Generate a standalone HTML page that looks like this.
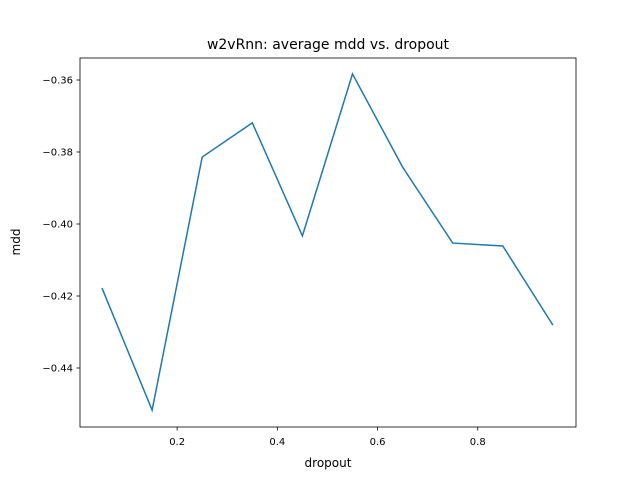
<!DOCTYPE html>
<html><head><meta charset="utf-8"><style>body{margin:0;background:#fff}svg{font-family:"DejaVu Sans","Liberation Sans",sans-serif}</style></head>
<body>
<svg id="chart" width="640" height="480">
<rect x="0" y="0" width="640" height="480" fill="#fff"/>
<text x="328" y="49" text-anchor="middle" font-size="14">w2vRnn: average mdd vs. dropout</text>
<text x="328" y="467" text-anchor="middle" font-size="12">dropout</text>
<text x="20" y="242" text-anchor="middle" font-size="12" transform="rotate(-90 20 242)">mdd</text>
<g id="ticks"></g>
<path id="line" fill="none" stroke="#1f77b4" stroke-width="1.5"/>
<rect x="80" y="58" width="496" height="369" fill="none" stroke="#000" stroke-width="0.8"/>
</svg>
<script>
const dropout = [0.05,0.15,0.25,0.35,0.45,0.55,0.65,0.75,0.85,0.95];
const mdd = [-0.4178,-0.4517,-0.3814,-0.3719,-0.4033,-0.3583,-0.3842,-0.4053,-0.4061,-0.4281];
const xTicks = [0.2,0.4,0.6,0.8];
const yTicks = [-0.36,-0.38,-0.40,-0.42,-0.44];
const xTickLabels = ["0.2","0.4","0.6","0.8"];
const yTickLabels = ["−0.36","−0.38","−0.40","−0.42","−0.44"];
function sx(v){return 102+(v-0.05)*501;}
function sy(v){return 80+(-0.36-v)*3600;}
const ns="http://www.w3.org/2000/svg";
const g=document.getElementById('ticks');
xTicks.forEach((t,i)=>{
  const l=document.createElementNS(ns,'line');
  l.setAttribute('x1',sx(t));l.setAttribute('x2',sx(t));l.setAttribute('y1',427);l.setAttribute('y2',430.5);l.setAttribute('stroke','#000');l.setAttribute('stroke-width','0.8');
  
  
  g.appendChild(l);
  const tx=document.createElementNS(ns,'text');
  tx.setAttribute('x',sx(t));tx.setAttribute('y',445);tx.setAttribute('text-anchor','middle');tx.setAttribute('font-size','10');
  tx.textContent=xTickLabels[i];
  
  
  g.appendChild(tx);
});
yTicks.forEach((t,i)=>{
  const l=document.createElementNS(ns,'line');
  l.setAttribute('x1',76.5);l.setAttribute('x2',80);l.setAttribute('y1',sy(t));l.setAttribute('y2',sy(t));l.setAttribute('stroke','#000');l.setAttribute('stroke-width','0.8');
  
  
  g.appendChild(l);
  const tx=document.createElementNS(ns,'text');
  tx.setAttribute('x',73);tx.setAttribute('y',sy(t)+3.5);tx.setAttribute('text-anchor','end');tx.setAttribute('font-size','10');
  tx.textContent=yTickLabels[i];
  
  
  g.appendChild(tx);
});
document.getElementById('line').setAttribute('d',dropout.map((d,i)=>(i?'L':'M')+sx(d)+','+sy(mdd[i])).join(' '));
</script>
</body></html>
